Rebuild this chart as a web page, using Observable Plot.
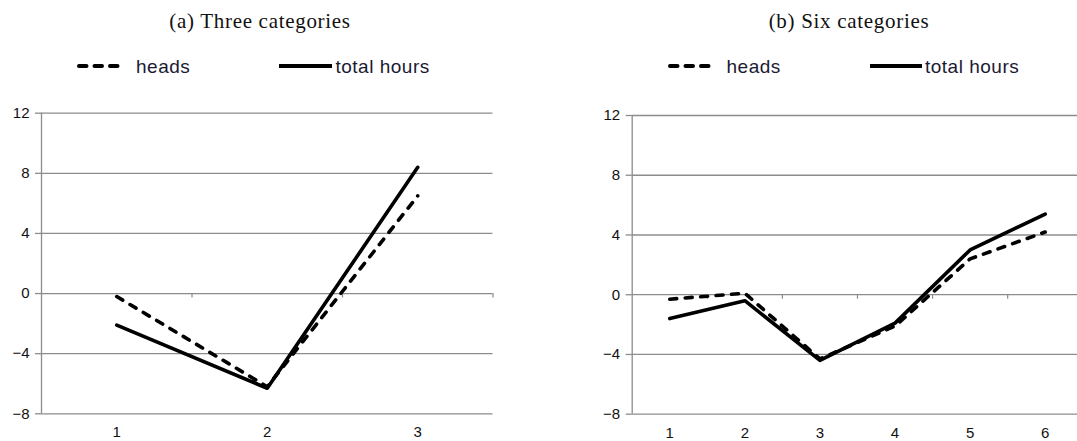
<!DOCTYPE html>
<html>
<head>
<meta charset="utf-8">
<script src="https://cdn.jsdelivr.net/npm/d3@7"></script>
<script src="https://cdn.jsdelivr.net/npm/@observablehq/plot@0.6"></script>
<style>
  body { margin: 0; background: #fff; }
  #fig { position: relative; width: 1077px; height: 441px; overflow: hidden; background: #fff; }
  .panel { position: absolute; top: 90px; }
  #overlay { position: absolute; left: 0; top: 0; }
</style>
</head>
<body>
<div id="fig">
  <div class="panel" id="left" style="left:0px"></div>
  <div class="panel" id="right" style="left:540px"></div>
  <svg id="overlay" width="1077" height="90"></svg>
</div>
<script>
// Panel (a): three categories
const threeCats = [1, 2, 3];
const threeHeads = [-0.2, -6.2, 6.5];
const threeHours = [-2.1, -6.3, 8.4];

// Panel (b): six categories
const sixCats = [1, 2, 3, 4, 5, 6];
const sixHeads = [-0.3, 0.1, -4.3, -2.1, 2.4, 4.2];
const sixHours = [-1.6, -0.4, -4.4, -1.9, 3.0, 5.4];

const yTicks = [-8, -4, 0, 4, 8, 12];
const titles = ["(a) Three categories", "(b) Six categories"];
const seriesNames = ["heads", "total hours"];

const gridColor = "#8c8c8c";
const inkColor = "#000";
const lineWidth = 3.6;
const dash = "7,8.5";
const tickFont = "'Liberation Sans', Arial, sans-serif";

function panel({cats, heads, hours, width, marginLeft, marginRight, marginTop, marginBottom, xMax}) {
  const rows = (vals) => cats.map((c, i) => ({cat: c, value: vals[i]}));
  const boundaries = cats.map(c => c + 0.5).filter(b => b <= xMax);
  const svg = Plot.plot({
    width, height: 351,
    marginLeft, marginRight, marginTop, marginBottom,
    x: {domain: [0.5, xMax]},
    y: {domain: [-8, 12]},
    style: {fontFamily: tickFont, fontSize: "15px", color: "#111", background: "transparent", overflow: "visible"},
    marks: [
      Plot.ruleY(yTicks, {stroke: gridColor, strokeWidth: 1.3}),
      Plot.ruleX([0.5], {stroke: gridColor, strokeWidth: 1.3}),
      Plot.ruleX(boundaries, {y1: 0, y2: -0.3, stroke: gridColor, strokeWidth: 1.2}),
      Plot.axisY({ticks: yTicks, tickSize: 6, tickPadding: 6, stroke: gridColor, strokeWidth: 1.3, label: null, fontSize: 15, fill: "#111"}),
      Plot.axisX({ticks: cats, tickSize: 0, tickPadding: 13, label: null, tickFormat: d => String(d), fontSize: 15, fill: "#111"}),
      Plot.line(rows(heads), {x: "cat", y: "value", stroke: inkColor, strokeWidth: lineWidth, strokeDasharray: dash, strokeLinecap: "round", strokeLinejoin: "round"}),
      Plot.line(rows(hours), {x: "cat", y: "value", stroke: inkColor, strokeWidth: lineWidth, strokeLinecap: "round", strokeLinejoin: "round"})
    ]
  });
  // tick labels in the same sans face as the legend text
  d3.select(svg).selectAll("text")
    .style("font-size", "15px")
    .style("font-family", tickFont);
  return svg;
}

document.getElementById("left").append(panel({
  cats: threeCats, heads: threeHeads, hours: threeHours,
  width: 540, marginLeft: 41, marginRight: 47.5, marginTop: 22.7, marginBottom: 27.7, xMax: 3.5
}));

document.getElementById("right").append(panel({
  cats: sixCats, heads: sixHeads, hours: sixHours,
  width: 537, marginLeft: 91.7, marginRight: 0, marginTop: 25, marginBottom: 27.3, xMax: 6.43
}));

// Titles and legends above each panel
const overlay = d3.select("#overlay");
const headerSpecs = [
  {title: titles[0], cx: 260, dash: [77, 122], headsX: 136, solid: [279, 332], hoursX: 335.5},
  {title: titles[1], cx: 849, dash: [668, 716], headsX: 726.5, solid: [870, 922], hoursX: 925}
];
for (const h of headerSpecs) {
  overlay.append("text")
    .attr("x", h.cx).attr("y", 27.5)
    .attr("text-anchor", "middle")
    .attr("font-family", "'Liberation Serif', 'Times New Roman', serif")
    .attr("font-size", 21).attr("letter-spacing", 0.7)
    .attr("fill", "#111")
    .text(h.title);
  overlay.append("line")
    .attr("x1", h.dash[0] + 2).attr("x2", h.dash[1]).attr("y1", 66).attr("y2", 66)
    .attr("stroke", inkColor).attr("stroke-width", 4)
    .attr("stroke-linecap", "round").attr("stroke-dasharray", "7.5,8");
  overlay.append("text")
    .attr("x", h.headsX).attr("y", 72.5)
    .attr("font-family", "'Liberation Sans', Arial, sans-serif")
    .attr("font-size", 19).attr("letter-spacing", 0.5)
    .attr("fill", "#1a1a33")
    .text(seriesNames[0]);
  overlay.append("line")
    .attr("x1", h.solid[0]).attr("x2", h.solid[1]).attr("y1", 66).attr("y2", 66)
    .attr("stroke", inkColor).attr("stroke-width", 4);
  overlay.append("text")
    .attr("x", h.hoursX).attr("y", 72.5)
    .attr("font-family", "'Liberation Sans', Arial, sans-serif")
    .attr("font-size", 19).attr("letter-spacing", 0.5)
    .attr("fill", "#1a1a33")
    .text(seriesNames[1]);
}
</script>
</body>
</html>
